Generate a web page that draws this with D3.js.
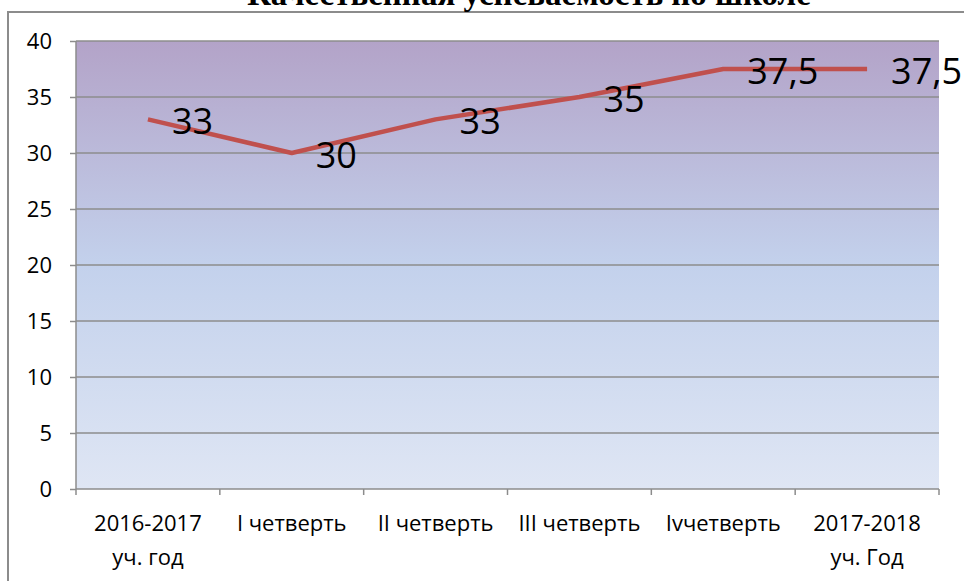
<!doctype html>
<html>
<head>
<meta charset="utf-8">
<title>Качественная успеваемость по школе</title>
<script src="https://d3js.org/d3.v7.min.js"></script>
<style>
  body { margin: 0; background: #fff; }
  svg { display: block; }
  .grid line { stroke: #8c8c8c; stroke-width: 1.5; }
  .axis text { font-family: "Open Sans", "Noto Sans", sans-serif; font-size: 22px; fill: #000; }
  .axis path, .axis line { stroke: #8c8c8c; stroke-width: 1.5; }
  .lbl { font-family: "Open Sans", "Noto Sans", sans-serif; font-size: 36px; fill: #000; }
  .title { font-family: "Liberation Serif", "Times New Roman", serif; font-weight: bold; font-size: 33px; }
</style>
</head>
<body>
<svg width="964" height="581"></svg>
<script>
var categories = [["2016-2017", "уч. год"], ["I четверть"], ["II четверть"], ["III четверть"], ["Ivчетверть"], ["2017-2018", "уч. Год"]];
var values = [33, 30, 33, 35, 37.5, 37.5];
var valueLabels = ["33", "30", "33", "35", "37,5", "37,5"];
var yTicks = [0, 5, 10, 15, 20, 25, 30, 35, 40];

var svg = d3.select("svg");
var pLeft = 76, pRight = 939, pTop = 41, pBottom = 489;

// outer frame
svg.append("path").attr("d", "M8,581V12H964").attr("fill", "none").attr("stroke", "#8c8c8c").attr("stroke-width", 2);
svg.append("text").attr("class", "title").attr("x", 529).attr("y", 5).attr("text-anchor", "middle")
  .text("Качественная успеваемость по школе");

var defs = svg.append("defs");
var grad = defs.append("linearGradient").attr("id", "bg").attr("x1", 0).attr("y1", 0).attr("x2", 0).attr("y2", 1);
grad.append("stop").attr("offset", "0%").attr("stop-color", "#b3a3c8");
grad.append("stop").attr("offset", "50%").attr("stop-color", "#c3d1ec");
grad.append("stop").attr("offset", "100%").attr("stop-color", "#dfe6f4");

var x = d3.scaleBand().domain(d3.range(categories.length)).range([pLeft, pRight]);
var y = d3.scaleLinear().domain([0, 40]).range([pBottom, pTop]);

svg.append("rect").attr("x", pLeft).attr("y", pTop).attr("width", pRight - pLeft).attr("height", pBottom - pTop)
  .attr("fill", "url(#bg)");

svg.append("g").attr("class", "grid").selectAll("line").data(yTicks.filter(d => d > 0)).enter()
  .append("line").attr("x1", pLeft).attr("x2", pRight).attr("y1", d => y(d)).attr("y2", d => y(d));

var yAxis = svg.append("g").attr("class", "axis").attr("transform", "translate(" + pLeft + ",0)")
  .call(d3.axisLeft(y).tickValues(yTicks).tickSize(6).tickPadding(18));
yAxis.select(".domain").remove();
yAxis.append("line").attr("y1", pTop).attr("y2", pBottom);

// x axis line + ticks at category boundaries
var xAxis = svg.append("g").attr("class", "axis");
xAxis.append("line").attr("x1", pLeft).attr("x2", pRight).attr("y1", pBottom).attr("y2", pBottom);
xAxis.selectAll("line.tk").data(d3.range(categories.length + 1)).enter().append("line").attr("class", "tk")
  .attr("x1", d => pLeft + d * x.step()).attr("x2", d => pLeft + d * x.step())
  .attr("y1", pBottom).attr("y2", pBottom + 6);
var xt = xAxis.selectAll("text").data(categories).enter().append("text")
  .attr("text-anchor", "middle")
  .attr("x", (d, i) => x(i) + x.bandwidth() / 2)
  .attr("y", 531);
xt.selectAll("tspan").data(d => d).enter().append("tspan")
  .attr("x", function () { return d3.select(this.parentNode).attr("x"); })
  .attr("dy", (d, i) => i ? 34 : 0)
  .text(d => d);

var line = d3.line().x((d, i) => x(i) + x.bandwidth() / 2).y(d => y(d));
svg.append("path").datum(values).attr("d", line).attr("fill", "none")
  .attr("stroke", "#c0504d").attr("stroke-width", 4.5).attr("stroke-linejoin", "round");

svg.selectAll("text.lbl").data(values).enter().append("text").attr("class", "lbl")
  .attr("x", (d, i) => x(i) + x.bandwidth() / 2 + 24)
  .attr("y", d => y(d) + 15)
  .text((d, i) => valueLabels[i]);
</script>
</body>
</html>
